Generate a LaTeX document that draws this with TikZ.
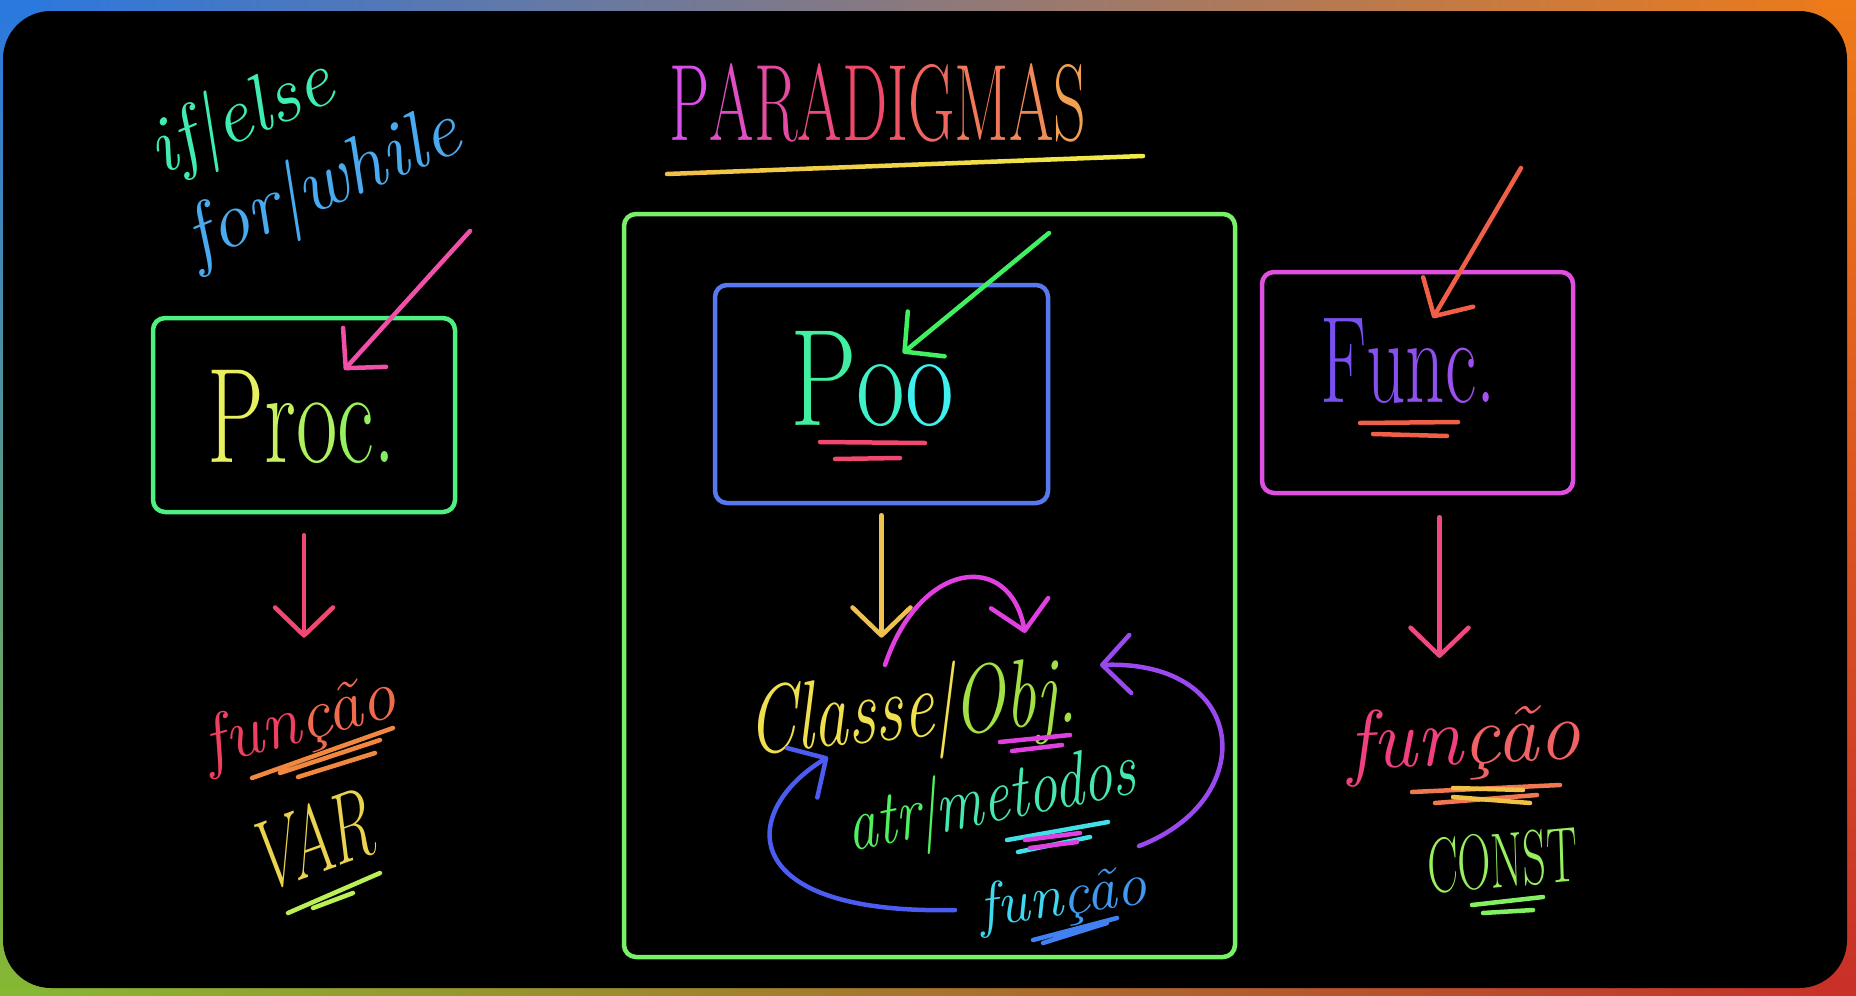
\documentclass[tikz,border=0pt]{standalone}
\usepackage{fontspec}
\usetikzlibrary{arrows.meta,calc}
\definecolor{bgblue}{HTML}{2A78E0}
\definecolor{bgorange}{HTML}{EE7A18}
\definecolor{bggreen}{HTML}{86B832}
\definecolor{bgred}{HTML}{C83028}
\definecolor{procG}{HTML}{50F080}
\definecolor{bigG}{HTML}{78F068}
\definecolor{pooB}{HTML}{5878F0}
\definecolor{funcM}{HTML}{E050E0}
\definecolor{tPink}{HTML}{D850E8}
\definecolor{tRed}{HTML}{F04868}
\definecolor{tOrange}{HTML}{F0A050}
\definecolor{ulOrg}{HTML}{F0C048}
\definecolor{ulYel}{HTML}{F0F048}
\definecolor{ifG}{HTML}{40E890}
\definecolor{ifT}{HTML}{40F0E0}
\definecolor{forC}{HTML}{40F0F0}
\definecolor{forB}{HTML}{5070F0}
\definecolor{procY}{HTML}{E8F060}
\definecolor{procL}{HTML}{80F060}
\definecolor{pooT}{HTML}{40F0A0}
\definecolor{pooC}{HTML}{40F0F0}
\definecolor{funcV}{HTML}{7850F0}
\definecolor{funcW}{HTML}{A850F0}
\definecolor{fLr}{HTML}{F04060}
\definecolor{fLo}{HTML}{F08840}
\definecolor{varY}{HTML}{F0C050}
\definecolor{varG}{HTML}{E0F050}
\definecolor{clsY}{HTML}{F0E050}
\definecolor{clsG}{HTML}{80E040}
\definecolor{metG}{HTML}{50F060}
\definecolor{metC}{HTML}{40E0E8}
\definecolor{fMc}{HTML}{40D8F0}
\definecolor{fMb}{HTML}{4080F0}
\definecolor{fRp}{HTML}{F04080}
\definecolor{fRo}{HTML}{F07850}
\definecolor{constG}{HTML}{98F060}
\definecolor{aPink}{HTML}{F050A8}
\definecolor{aRed}{HTML}{F04870}
\definecolor{aGrn}{HTML}{40F060}
\definecolor{aYel}{HTML}{F0C050}
\definecolor{aMag}{HTML}{E040E0}
\definecolor{aPur}{HTML}{9A48F0}
\definecolor{aBlu}{HTML}{4C5CF0}
\definecolor{aOrg}{HTML}{F06048}
\definecolor{aPk}{HTML}{F04880}
\begin{document}
\begin{tikzpicture}[x=1pt,y=-1pt,
    pen/.style={line width=4.5pt,line cap=round,line join=round},
    arr/.style={pen,-{Straight Barb[round,length=28pt,width=58pt]}},
    box/.style={draw,line width=4.5pt,rounded corners=12pt},
    txt/.style={inner sep=0pt,outer sep=0pt,anchor=base},
    hand/.style={txt,font=\fontsize{#1}{#1}\selectfont\itshape},
    print/.style={txt,font=\fontsize{#1}{#1}\selectfont}]
    \useasboundingbox (0,0) rectangle (1856,996);
    \shade[left color=bgblue,right color=bgorange] (0,0) rectangle (1856,498);
    \shade[left color=bggreen,right color=bgred] (0,498) rectangle (1856,996);
    \shade[top color=bgblue,bottom color=bggreen] (0,0) rectangle (40,996);
    \shade[top color=bgorange,bottom color=bgred] (1816,0) rectangle (1856,996);
    \fill[black,rounded corners=48pt] (3,11) rectangle (1847,988);

    \node[print=64,yscale=1.7] (title) at (878,140) {\textcolor{tPink}{P}\textcolor{tPink!70!tRed}{A}\textcolor{tPink!45!tRed}{R}\textcolor{tPink!20!tRed}{A}\textcolor{tRed}{D}\textcolor{tRed!85!tOrange}{I}\textcolor{tRed!65!tOrange}{G}\textcolor{tRed!45!tOrange}{M}\textcolor{tRed!25!tOrange}{A}\textcolor{tOrange}{S}};
    \coordinate (ul1) at (667,174);
    \coordinate (ul2) at (1143,156);
    \foreach \i in {0,...,9} {
        \draw[pen,draw=ulYel!\i0!ulOrg] ($(ul1)!\i/10!(ul2)$) -- ($(ul1)!\i/10+0.1!(ul2)$);
    }

    \node[inner sep=0pt,outer sep=0pt,align=left,rotate=23,font=\fontsize{80}{95}\selectfont\itshape] (loops) at (305,144) {\textcolor{ifG!55!ifT}{if|else}\\\textcolor{forC!45!forB}{for|while}};

    \node[box,draw=procG,minimum width=302pt,minimum height=194pt] (procbox) at (304,415) {};
    \node[print=90,yscale=1.5] (proc) at (302,462) {\textcolor{procY}{P}\textcolor{procY!70!procL}{r}\textcolor{procY!45!procL}{o}\textcolor{procY!20!procL}{c}\textcolor{procL}{.}};
    \node[hand=71,rotate=15] (funL) at (305,741) {\textcolor{fLr}{fun}\textcolor{fLr!40!fLo}{ção}};
    \node[print=60,yscale=1.7,rotate=12] (var) at (320,873) {\textcolor{varY!60!varG}{VAR}};

    \node[box,draw=bigG,minimum width=611pt,minimum height=743pt] (bigbox) at (929.5,585.5) {};
    \node[box,draw=pooB,minimum width=333pt,minimum height=218pt] (poobox) at (881.5,394) {};
    \node[print=106,yscale=1.3] (poo) at (872,425) {\textcolor{pooT}{P}\textcolor{pooT!50!pooC}{o}\textcolor{pooC}{o}};
    \node[hand=69,yscale=1.4,rotate=4] (classe) at (914,738) {\textcolor{clsY}{Classe|}\textcolor{clsY!30!clsG}{Obj.}};
    \node[hand=59,yscale=1.3,rotate=9] (metodos) at (994,822) {\textcolor{metG}{atr|}\textcolor{metG!40!metC}{metodos}};
    \node[hand=61,rotate=8] (funM) at (1065,915) {\textcolor{fMc}{fun}\textcolor{fMc!30!fMb}{ção}};

    \node[box,draw=funcM,minimum width=311pt,minimum height=221pt] (funcbox) at (1417.5,382.5) {};
    \node[print=77,yscale=1.6] (func) at (1408,402) {\textcolor{funcV}{F}\textcolor{funcV!75!funcW}{u}\textcolor{funcV!50!funcW}{n}\textcolor{funcV!25!funcW}{c}\textcolor{funcW}{.}};
    \node[hand=84,rotate=3] (funR) at (1465,764) {\textcolor{fRp}{fun}\textcolor{fRp!40!fRo}{ção}};
    \node[print=46,yscale=1.7,rotate=3] (const) at (1503,887) {\textcolor{constG}{CONST}};

    \draw[pen,draw=aRed] (820,442) -- (925,443) (835,459) -- (900,458);
    \draw[pen,draw=aOrg] (1360,423) -- (1458,422) (1373,434) -- (1447,436);
    \draw[pen,draw=fLo] (252,778) -- (393,728) (280,773) -- (380,740) (298,777) -- (375,753);
    \draw[pen,draw=varG!60!procL] (288,913) -- (380,873) (313,908) -- (353,893);
    \draw[pen,draw=aMag] (1000,742) -- (1070,735) (1012,751) -- (1062,745);
    \draw[pen,draw=metC] (1007,840) -- (1108,822) (1018,852) -- (1090,837);
    \draw[pen,draw=aMag] (1025,840) -- (1080,833) (1030,848) -- (1077,842);
    \draw[pen,draw=fMb] (1033,940) -- (1117,918) (1043,943) -- (1107,923);
    \draw[pen,draw=fRo] (1412,792) -- (1560,785) (1435,803) -- (1537,795);
    \draw[pen,draw=ulOrg] (1453,788) -- (1523,790) (1453,797) -- (1530,803);
    \draw[pen,draw=constG!70!metG] (1472,905) -- (1543,897) (1483,913) -- (1533,910);

    \coordinate (procin) at (470,231);
    \coordinate (pooin) at (1049,233);
    \coordinate (funcin) at (1521,168);
    \draw[arr,draw=aPink] (procin) -- (proc);
    \draw[arr,draw=aGrn,shorten >=-35pt] (pooin) -- (poo);
    \draw[arr,draw=aOrg] (funcin) -- (func);

    \draw[arr,draw=aRed,shorten <=21pt,shorten >=55pt] (procbox.south) -- (procbox.south |- funL.north);
    \draw[arr,draw=aYel,shorten <=10pt,shorten >=28pt] (poobox.south) -- (poobox.south |- classe.north);
    \draw[arr,draw=aPk,shorten <=22pt,shorten >=47pt] ([xshift=22pt]funcbox.south) -- ([xshift=22pt]funcbox.south |- funR.north);

    \coordinate (clsA) at (885,665);
    \coordinate (clsB) at (1025,633);
    \coordinate (metE) at (1139,846);
    \coordinate (objE) at (1100,665);
    \coordinate (funW) at (955,910);
    \coordinate (clsS) at (828,757);
    \draw[arr,draw=aMag] (clsA) .. controls +(35,-105) and +(-15,-83) .. (clsB);
    \draw[arr,draw=aPur] (metE) .. controls +(121,-46) and +(150,-5) .. (objE);
    \draw[arr,draw=aBlu] (funW) .. controls +(-220,5) and +(-90,55) .. (clsS);
\end{tikzpicture}
\end{document}
